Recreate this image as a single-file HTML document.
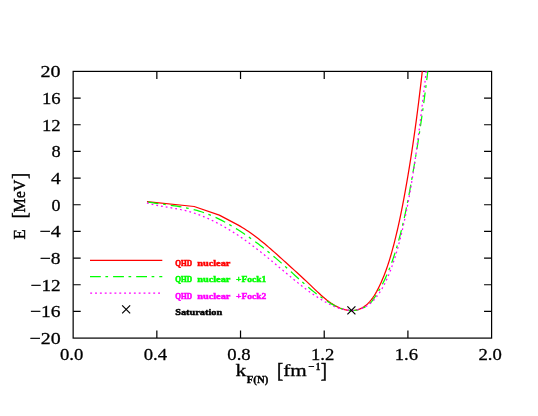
<!DOCTYPE html>
<html><head><meta charset="utf-8"><title>plot</title>
<style>
html,body{margin:0;padding:0;background:#fff;overflow:hidden;}
svg{display:block;will-change:transform;}
text{font-family:"Liberation Serif",serif;fill:#000;stroke:#000;stroke-width:0.35px;}
.tk{font-size:15.6px;}
.lg{font-family:"Liberation Serif",serif;font-weight:bold;font-size:9px;}
</style></head><body>
<svg width="538" height="416" viewBox="0 0 538 416">
<rect width="538" height="416" fill="#fff"/>
<g fill="none" stroke="#000" stroke-width="1.22">
<rect x="73.15" y="71.40" width="418.45" height="266.70"/>
<path d="M156.84,71.40 v7.55 M156.84,338.10 v-7.55 M240.53,71.40 v7.55 M240.53,338.10 v-7.55 M324.22,71.40 v7.55 M324.22,338.10 v-7.55 M407.91,71.40 v7.55 M407.91,338.10 v-7.55 M73.15,98.07 h7.55 M491.60,98.07 h-7.55 M73.15,124.74 h7.55 M491.60,124.74 h-7.55 M73.15,151.41 h7.55 M491.60,151.41 h-7.55 M73.15,178.08 h7.55 M491.60,178.08 h-7.55 M73.15,204.75 h7.55 M491.60,204.75 h-7.55 M73.15,231.42 h7.55 M491.60,231.42 h-7.55 M73.15,258.09 h7.55 M491.60,258.09 h-7.55 M73.15,284.76 h7.55 M491.60,284.76 h-7.55 M73.15,311.43 h7.55 M491.60,311.43 h-7.55"/>
</g>
<g fill="none" stroke-width="1.25" stroke-linejoin="round">
<path stroke="#f00" d="M146.95,201.60 L194.20,206.50 L219.30,215.10 L237.81,224.87 L240.03,226.14 L242.22,227.45 L244.37,228.80 L246.51,230.18 L248.61,231.59 L250.69,233.03 L252.75,234.50 L254.79,236.00 L256.80,237.52 L258.80,239.07 L260.78,240.64 L262.75,242.23 L264.70,243.84 L266.64,245.47 L268.57,247.11 L270.48,248.77 L272.39,250.44 L274.29,252.12 L276.19,253.80 L278.08,255.50 L279.96,257.20 L281.85,258.90 L283.73,260.61 L285.62,262.31 L287.51,264.02 L289.40,265.72 L291.29,267.43 L293.17,269.13 L295.06,270.84 L296.94,272.55 L298.81,274.27 L300.68,275.98 L302.55,277.70 L304.40,279.43 L306.25,281.16 L308.08,282.89 L309.91,284.63 L311.72,286.38 L313.53,288.12 L315.34,289.87 L317.17,291.60 L319.01,293.31 L320.87,295.01 L322.77,296.67 L324.71,298.30 L326.69,299.89 L328.73,301.44 L330.84,302.93 L333.01,304.36 L335.24,305.70 L337.52,306.92 L339.86,308.01 L342.23,308.94 L344.65,309.68 L347.10,310.21 L349.57,310.52 L352.07,310.56 L354.57,310.34 L357.04,309.85 L359.44,309.10 L361.75,308.10 L363.91,306.84 L365.93,305.35 L367.81,303.68 L369.55,301.85 L371.18,299.91 L372.71,297.88 L374.13,295.77 L375.47,293.60 L376.74,291.37 L377.93,289.11 L379.08,286.81 L380.18,284.50 L381.24,282.18 L382.26,279.85 L383.24,277.50 L384.19,275.15 L385.10,272.79 L385.98,270.41 L386.83,268.03 L387.65,265.64 L388.44,263.23 L389.20,260.83 L389.95,258.41 L390.67,255.99 L391.37,253.56 L392.05,251.13 L392.72,248.69 L393.37,246.24 L394.01,243.80 L394.63,241.34 L395.24,238.89 L395.85,236.43 L396.44,233.96 L397.02,231.50 L397.59,229.03 L398.15,226.56 L398.71,224.08 L399.25,221.60 L399.78,219.12 L400.31,216.64 L400.83,214.16 L401.33,211.67 L401.83,209.18 L402.33,206.69 L402.81,204.20 L403.29,201.71 L403.77,199.21 L404.23,196.72 L404.69,194.22 L405.15,191.72 L405.60,189.22 L406.04,186.72 L406.48,184.22 L406.92,181.72 L407.35,179.22 L407.78,176.72 L408.20,174.22 L408.61,171.72 L409.03,169.21 L409.44,166.71 L409.84,164.21 L410.24,161.71 L410.64,159.20 L411.03,156.70 L411.42,154.19 L411.80,151.69 L412.18,149.18 L412.56,146.67 L412.93,144.17 L413.30,141.66 L413.66,139.15 L414.03,136.64 L414.38,134.14 L414.74,131.63 L415.09,129.12 L415.43,126.61 L415.78,124.09 L416.12,121.58 L416.46,119.07 L416.79,116.56 L417.12,114.04 L417.45,111.53 L417.77,109.02 L418.09,106.50 L418.41,103.99 L418.72,101.47 L419.04,98.95 L419.34,96.44 L419.65,93.92 L419.95,91.40 L420.25,88.88 L420.55,86.36 L420.85,83.84 L421.14,81.32 L421.43,78.80 L421.72,76.27 L422.00,73.75 L422.29,71.23"/>
<path stroke="#0f0" stroke-dasharray="10.8 4.69 2.7 5.11" d="M147.69,202.02 L149.94,202.36 L152.19,202.69 L154.44,203.01 L156.70,203.32 L158.95,203.63 L161.21,203.94 L163.47,204.24 L165.73,204.55 L167.99,204.86 L170.24,205.19 L172.50,205.52 L174.75,205.86 L177.00,206.21 L179.24,206.59 L181.48,206.98 L183.71,207.39 L185.94,207.83 L188.16,208.30 L190.37,208.79 L192.57,209.31 L194.77,209.87 L196.95,210.46 L199.12,211.09 L201.29,211.76 L203.44,212.47 L205.58,213.23 L207.70,214.03 L209.82,214.88 L211.92,215.76 L214.00,216.68 L216.08,217.63 L218.14,218.62 L220.19,219.63 L222.22,220.68 L224.24,221.75 L226.25,222.84 L228.25,223.96 L230.23,225.10 L232.20,226.25 L234.15,227.42 L236.09,228.61 L238.02,229.82 L239.94,231.04 L241.84,232.28 L243.73,233.53 L245.61,234.80 L247.48,236.09 L249.34,237.38 L251.19,238.70 L253.02,240.02 L254.85,241.36 L256.67,242.72 L258.48,244.09 L260.27,245.47 L262.06,246.86 L263.84,248.26 L265.61,249.68 L267.38,251.10 L269.13,252.54 L270.88,253.99 L272.62,255.45 L274.36,256.92 L276.08,258.40 L277.80,259.88 L279.52,261.38 L281.23,262.89 L282.93,264.40 L284.63,265.92 L286.32,267.45 L288.01,268.99 L289.69,270.53 L291.37,272.07 L293.06,273.62 L294.74,275.17 L296.42,276.71 L298.11,278.25 L299.80,279.78 L301.50,281.31 L303.20,282.82 L304.91,284.33 L306.63,285.82 L308.36,287.30 L310.11,288.76 L311.86,290.20 L313.63,291.62 L315.41,293.03 L317.21,294.40 L319.03,295.75 L320.86,297.08 L322.72,298.38 L324.60,299.64 L326.50,300.87 L328.42,302.07 L330.37,303.23 L332.34,304.36 L334.34,305.44 L336.37,306.48 L338.43,307.45 L340.53,308.32 L342.65,309.09 L344.82,309.72 L347.02,310.19 L349.26,310.48 L351.55,310.57 L353.86,310.44 L356.19,310.11 L358.48,309.61 L360.73,308.93 L362.89,308.09 L364.95,307.08 L366.90,305.89 L368.70,304.53 L370.35,302.99 L371.83,301.29 L373.19,299.49 L374.48,297.62 L375.73,295.73 L376.95,293.82 L378.13,291.89 L379.28,289.94 L380.40,287.97 L381.48,285.98 L382.54,283.97 L383.56,281.95 L384.55,279.91 L385.52,277.86 L386.46,275.79 L387.37,273.70 L388.25,271.61 L389.11,269.50 L389.95,267.38 L390.76,265.25 L391.55,263.11 L392.32,260.96 L393.07,258.81 L393.80,256.65 L394.51,254.48 L395.21,252.30 L395.89,250.12 L396.55,247.94 L397.20,245.76 L397.83,243.57 L398.45,241.38 L399.06,239.18 L399.65,236.99 L400.23,234.79 L400.80,232.58 L401.35,230.38 L401.90,228.17 L402.43,225.97 L402.95,223.75 L403.46,221.54 L403.97,219.33 L404.46,217.11 L404.94,214.89 L405.42,212.67 L405.89,210.45 L406.34,208.22 L406.80,206.00 L407.24,203.77 L407.68,201.54 L408.11,199.31 L408.54,197.08 L408.96,194.85 L409.38,192.61 L409.79,190.38 L410.20,188.14 L410.60,185.91 L411.01,183.67 L411.40,181.43 L411.80,179.19 L412.19,176.95 L412.58,174.71 L412.97,172.47 L413.36,170.23 L413.74,167.99 L414.13,165.75 L414.50,163.50 L414.88,161.26 L415.26,159.02 L415.63,156.77 L416.00,154.53 L416.36,152.28 L416.73,150.04 L417.09,147.79 L417.45,145.54 L417.80,143.29 L418.16,141.05 L418.51,138.80 L418.86,136.55 L419.20,134.30 L419.55,132.05 L419.89,129.80 L420.23,127.55 L420.56,125.30 L420.90,123.05 L421.23,120.80 L421.56,118.55 L421.88,116.30 L422.20,114.04 L422.52,111.79 L422.84,109.54 L423.15,107.29 L423.47,105.03 L423.77,102.78 L424.08,100.52 L424.38,98.27 L424.68,96.02 L424.98,93.76 L425.28,91.51 L425.57,89.25 L425.86,87.00 L426.14,84.74 L426.43,82.49 L426.71,80.23 L426.99,77.98 L427.26,75.72 L427.53,73.47 L427.80,71.21"/>
<path stroke="#f0f" stroke-dasharray="1.8 3.015" d="M146.90,202.96 L149.07,203.55 L151.27,204.10 L153.48,204.60 L155.70,205.08 L157.92,205.52 L160.16,205.94 L162.41,206.34 L164.66,206.73 L166.91,207.11 L169.17,207.49 L171.42,207.87 L173.68,208.26 L175.93,208.66 L178.17,209.07 L180.41,209.51 L182.64,209.98 L184.86,210.47 L187.07,211.01 L189.26,211.59 L191.44,212.21 L193.60,212.88 L195.75,213.60 L197.88,214.36 L200.00,215.16 L202.11,215.99 L204.20,216.86 L206.29,217.76 L208.36,218.68 L210.42,219.63 L212.47,220.61 L214.50,221.61 L216.53,222.64 L218.55,223.69 L220.55,224.76 L222.55,225.85 L224.53,226.97 L226.50,228.10 L228.47,229.26 L230.41,230.44 L232.35,231.63 L234.28,232.85 L236.19,234.08 L238.09,235.33 L239.98,236.60 L241.86,237.88 L243.73,239.18 L245.58,240.50 L247.43,241.83 L249.26,243.17 L251.09,244.53 L252.90,245.89 L254.71,247.27 L256.50,248.67 L258.29,250.07 L260.08,251.48 L261.85,252.90 L263.62,254.32 L265.39,255.76 L267.15,257.20 L268.90,258.64 L270.65,260.09 L272.40,261.55 L274.15,263.01 L275.89,264.47 L277.63,265.93 L279.37,267.40 L281.11,268.86 L282.85,270.33 L284.59,271.79 L286.33,273.25 L288.07,274.71 L289.81,276.17 L291.56,277.62 L293.31,279.07 L295.06,280.51 L296.82,281.95 L298.59,283.37 L300.36,284.79 L302.14,286.19 L303.93,287.58 L305.74,288.95 L307.55,290.31 L309.38,291.65 L311.22,292.97 L313.08,294.27 L314.96,295.55 L316.85,296.81 L318.76,298.04 L320.69,299.25 L322.65,300.43 L324.62,301.58 L326.62,302.70 L328.64,303.79 L330.69,304.83 L332.76,305.81 L334.86,306.72 L336.99,307.55 L339.15,308.30 L341.33,308.94 L343.55,309.48 L345.80,309.89 L348.06,310.17 L350.33,310.31 L352.59,310.30 L354.83,310.14 L357.04,309.80 L359.21,309.29 L361.33,308.61 L363.39,307.77 L365.39,306.77 L367.31,305.62 L369.14,304.32 L370.89,302.90 L372.55,301.36 L374.12,299.72 L375.61,297.99 L377.03,296.19 L378.39,294.34 L379.68,292.45 L380.91,290.53 L382.08,288.57 L383.20,286.59 L384.27,284.57 L385.30,282.53 L386.28,280.47 L387.22,278.38 L388.13,276.28 L389.00,274.17 L389.84,272.05 L390.66,269.91 L391.45,267.77 L392.23,265.63 L392.98,263.48 L393.71,261.32 L394.42,259.16 L395.11,256.99 L395.78,254.82 L396.43,252.65 L397.07,250.47 L397.70,248.29 L398.30,246.10 L398.89,243.91 L399.47,241.71 L400.04,239.52 L400.59,237.32 L401.13,235.11 L401.66,232.91 L402.18,230.70 L402.69,228.49 L403.19,226.27 L403.68,224.06 L404.17,221.84 L404.65,219.62 L405.12,217.40 L405.58,215.18 L406.04,212.96 L406.49,210.73 L406.93,208.50 L407.37,206.27 L407.80,204.04 L408.22,201.81 L408.64,199.58 L409.05,197.34 L409.45,195.11 L409.85,192.87 L410.25,190.63 L410.63,188.39 L411.02,186.15 L411.39,183.91 L411.76,181.67 L412.13,179.42 L412.49,177.18 L412.85,174.93 L413.20,172.68 L413.55,170.44 L413.89,168.19 L414.23,165.94 L414.57,163.69 L414.90,161.43 L415.22,159.18 L415.55,156.93 L415.87,154.68 L416.18,152.42 L416.50,150.17 L416.80,147.91 L417.11,145.66 L417.41,143.40 L417.71,141.15 L418.01,138.89 L418.31,136.63 L418.60,134.37 L418.89,132.12 L419.18,129.86 L419.46,127.60 L419.74,125.34 L420.03,123.09 L420.30,120.83 L420.58,118.57 L420.86,116.31 L421.13,114.06 L421.41,111.80 L421.68,109.54 L421.95,107.28 L422.22,105.03 L422.50,102.77 L422.76,100.51 L423.03,98.26 L423.30,96.00 L423.57,93.75 L423.84,91.49 L424.11,89.24 L424.38,86.99 L424.65,84.73 L424.92,82.48 L425.19,80.23 L425.46,77.98 L425.73,75.73 L426.00,73.48 L426.28,71.23"/>
<path stroke="#f00" d="M90,260.35 H162.3"/>
<path stroke="#0f0" stroke-dasharray="10.8 4.6 2.7 5" d="M90,276.6 H162.3"/>
<path stroke="#f0f" stroke-dasharray="1.9 2.95" d="M90.2,293 H160"/>
</g>
<path fill="none" stroke="#000" stroke-width="1.2" d="M122.15,305.40 l8.00,8.00 M122.15,313.40 l8.00,-8.00 M347.40,306.40 l8.00,8.00 M347.40,314.40 l8.00,-8.00"/>
<text class="tk" x="60.6" y="77.20" text-anchor="end" style="font-size:17px;stroke-width:0.28px" transform="translate(60.6 0) scale(1.18 1) translate(-60.6 0)">20</text>
<text class="tk" x="60.6" y="103.87" text-anchor="end" style="font-size:17px;stroke-width:0.28px" transform="translate(60.6 0) scale(1.10 1) translate(-60.6 0)">16</text>
<text class="tk" x="60.6" y="130.54" text-anchor="end" style="font-size:17px;stroke-width:0.28px" transform="translate(60.6 0) scale(1.10 1) translate(-60.6 0)">12</text>
<text class="tk" x="60.6" y="157.21" text-anchor="end" style="font-size:17px;stroke-width:0.28px" transform="translate(60.6 0) scale(1.08 1) translate(-60.6 0)">8</text>
<text class="tk" x="60.6" y="183.88" text-anchor="end" style="font-size:17px;stroke-width:0.28px" transform="translate(60.6 0) scale(1.14 1) translate(-60.6 0)">4</text>
<text class="tk" x="60.6" y="210.55" text-anchor="end" style="font-size:17px;stroke-width:0.28px" transform="translate(60.6 0) scale(1.06 1) translate(-60.6 0)">0</text>
<text class="tk" x="60.6" y="237.22" text-anchor="end" style="font-size:17px;stroke-width:0.28px" transform="translate(60.6 0) scale(1.17 1) translate(-60.6 0)">−4</text>
<text class="tk" x="60.6" y="263.89" text-anchor="end" style="font-size:17px;stroke-width:0.28px" transform="translate(60.6 0) scale(1.15 1) translate(-60.6 0)">−8</text>
<text class="tk" x="60.6" y="290.56" text-anchor="end" style="font-size:17px;stroke-width:0.28px" transform="translate(60.6 0) scale(1.13 1) translate(-60.6 0)">−12</text>
<text class="tk" x="60.6" y="317.23" text-anchor="end" style="font-size:17px;stroke-width:0.28px" transform="translate(60.6 0) scale(1.15 1) translate(-60.6 0)">−16</text>
<text class="tk" x="60.6" y="343.90" text-anchor="end" style="font-size:17px;stroke-width:0.28px" transform="translate(60.6 0) scale(1.17 1) translate(-60.6 0)">−20</text>
<text class="tk" x="71.65" y="359.85" text-anchor="middle" style="font-size:17px;stroke-width:0.28px" transform="translate(71.65 0) scale(1.1 1) translate(-71.65 0)">0.0</text>
<text class="tk" x="155.34" y="359.85" text-anchor="middle" style="font-size:17px;stroke-width:0.28px" transform="translate(155.34 0) scale(1.1 1) translate(-155.34 0)">0.4</text>
<text class="tk" x="239.03" y="359.85" text-anchor="middle" style="font-size:17px;stroke-width:0.28px" transform="translate(239.03 0) scale(1.1 1) translate(-239.03 0)">0.8</text>
<text class="tk" x="322.72" y="359.85" text-anchor="middle" style="font-size:17px;stroke-width:0.28px" transform="translate(322.72 0) scale(1.1 1) translate(-322.72 0)">1.2</text>
<text class="tk" x="406.41" y="359.85" text-anchor="middle" style="font-size:17px;stroke-width:0.28px" transform="translate(406.41 0) scale(1.1 1) translate(-406.41 0)">1.6</text>
<text class="tk" x="490.10" y="359.85" text-anchor="middle" style="font-size:17px;stroke-width:0.28px" transform="translate(490.10 0) scale(1.1 1) translate(-490.10 0)">2.0</text>
<g transform="translate(25.3 239) rotate(-90)">
<text x="-0.40" y="0.00" textLength="10.20" lengthAdjust="spacingAndGlyphs" style="font-size:17px;stroke-width:0.45px">E</text>
<text x="20.40" y="0.55" textLength="6.20" lengthAdjust="spacingAndGlyphs" style="font-size:20.2px;stroke-width:0.45px">[</text>
<text x="26.50" y="0.00" textLength="32.80" lengthAdjust="spacingAndGlyphs" style="font-size:17px;stroke-width:0.45px">MeV</text>
<text x="60.10" y="0.55" textLength="6.20" lengthAdjust="spacingAndGlyphs" style="font-size:20.2px;stroke-width:0.45px">]</text>
</g>
<text x="235.40" y="376.00" textLength="10.80" lengthAdjust="spacingAndGlyphs" style="font-size:17px;stroke-width:0.32px">k</text>
<text x="246.70" y="382.70" textLength="21.60" lengthAdjust="spacingAndGlyphs" style="font-size:11px;font-weight:bold;stroke-width:0.35px">F(N)</text>
<text x="277.00" y="377.10" textLength="6.20" lengthAdjust="spacingAndGlyphs" style="font-size:20.2px;stroke-width:0.45px">[</text>
<text x="283.20" y="376.00" textLength="23.50" lengthAdjust="spacingAndGlyphs" style="font-size:17px;stroke-width:0.3px">fm</text>
<text x="308.60" y="369.60" textLength="6.20" lengthAdjust="spacingAndGlyphs" style="font-size:10.3px;font-weight:bold;stroke-width:0.35px">−</text>
<text x="315.70" y="369.60" textLength="4.60" lengthAdjust="spacingAndGlyphs" style="font-size:10.3px;font-weight:bold;stroke-width:0.35px">1</text>
<text x="320.70" y="377.10" textLength="6.20" lengthAdjust="spacingAndGlyphs" style="font-size:20.2px;stroke-width:0.45px">]</text>
<text class="lg" x="175.20" y="265.90" textLength="16.80" lengthAdjust="spacingAndGlyphs" style="fill:#f00;stroke:#f00;stroke-width:0.60px">QHD</text>
<text class="lg" x="197.20" y="265.90" textLength="33.20" lengthAdjust="spacingAndGlyphs" style="fill:#f00;stroke:#f00;stroke-width:0.45px">nuclear</text>
<text class="lg" x="175.20" y="282.25" textLength="16.80" lengthAdjust="spacingAndGlyphs" style="fill:#0f0;stroke:#0f0;stroke-width:0.60px">QHD</text>
<text class="lg" x="197.20" y="282.25" textLength="33.20" lengthAdjust="spacingAndGlyphs" style="fill:#0f0;stroke:#0f0;stroke-width:0.45px">nuclear</text>
<text class="lg" x="236.10" y="282.25" textLength="30.30" lengthAdjust="spacingAndGlyphs" style="fill:#0f0;stroke:#0f0;stroke-width:0.45px">+Fock1</text>
<text class="lg" x="175.20" y="298.50" textLength="16.80" lengthAdjust="spacingAndGlyphs" style="fill:#f0f;stroke:#f0f;stroke-width:0.60px">QHD</text>
<text class="lg" x="197.20" y="298.50" textLength="33.20" lengthAdjust="spacingAndGlyphs" style="fill:#f0f;stroke:#f0f;stroke-width:0.45px">nuclear</text>
<text class="lg" x="236.10" y="298.50" textLength="30.30" lengthAdjust="spacingAndGlyphs" style="fill:#f0f;stroke:#f0f;stroke-width:0.45px">+Fock2</text>
<text class="lg" x="175.20" y="314.70" textLength="47.00" lengthAdjust="spacingAndGlyphs" style="fill:#000;stroke:#000;stroke-width:0.45px">Saturation</text>
</svg></body></html>
